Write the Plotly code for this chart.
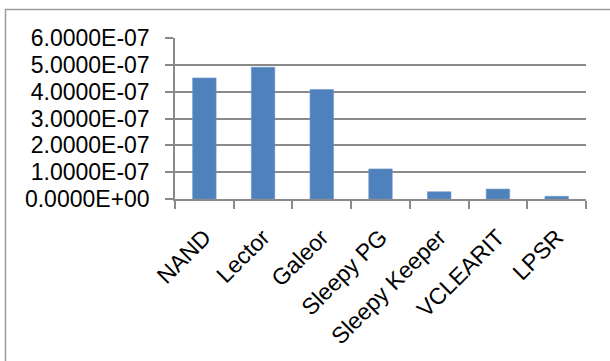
import plotly.graph_objects as go

# Leakage values per circuit technique
categories = ["NAND", "Lector", "Galeor", "Sleepy PG", "Sleepy Keeper", "VCLEARIT", "LPSR"]
values = [4.51e-7, 4.91e-7, 4.08e-7, 1.12e-7, 0.27e-7, 0.37e-7, 0.10e-7]

# Y-axis ticks in scientific notation
y_tick_vals = [0, 1e-7, 2e-7, 3e-7, 4e-7, 5e-7, 6e-7]
y_tick_text = ["0.0000E+00", "1.0000E-07", "2.0000E-07", "3.0000E-07",
               "4.0000E-07", "5.0000E-07", "6.0000E-07"]

W, H = 610, 361
L, R, T, B = 175, 24, 38, 162
pw, ph = W - L - R, H - T - B

def px(x):
    return (x - L) / pw

def py(y):
    return 1 - (y - T) / ph

grid = "#8a8a8a"
font = dict(family="Liberation Sans, Arial, sans-serif", size=23, color="#000000")

fig = go.Figure(go.Bar(
    x=categories,
    y=values,
    marker=dict(color="#4F81BD", line=dict(color="#6f97c9", width=0.6)),
    width=0.4,
))

fig.update_layout(
    width=W, height=H,
    margin=dict(l=L, r=R, t=T, b=B),
    paper_bgcolor="white",
    plot_bgcolor="white",
    showlegend=False,
    font=font,
    xaxis=dict(
        type="category",
        tickangle=-45,
        tickson="boundaries",
        ticks="outside",
        ticklen=8,
        tickwidth=1.5,
        tickcolor=grid,
        showline=True,
        linecolor=grid,
        linewidth=1.5,
        showgrid=False,
        tickfont=font,
        ticklabelstandoff=14,
        range=[-0.5, 6.5],
    ),
    yaxis=dict(
        range=[0, 6e-7],
        tickvals=y_tick_vals,
        ticktext=y_tick_text,
        ticks="outside",
        ticklen=8,
        tickwidth=1.5,
        tickcolor=grid,
        showline=True,
        linecolor=grid,
        linewidth=1.5,
        showgrid=True,
        gridcolor=grid,
        gridwidth=1.5,
        zeroline=False,
        tickfont=font,
        ticklabelstandoff=11,
    ),
    shapes=[
        # chart frame (left and top edges)
        dict(type="path", xref="paper", yref="paper",
             path=f"M {px(5.5)} {py(400)} L {px(5.5)} {py(9.5)} L {px(640)} {py(9.5)}",
             line=dict(color="#9a9a9a", width=1.5)),
    ],
)

fig.write_html("out.html")
